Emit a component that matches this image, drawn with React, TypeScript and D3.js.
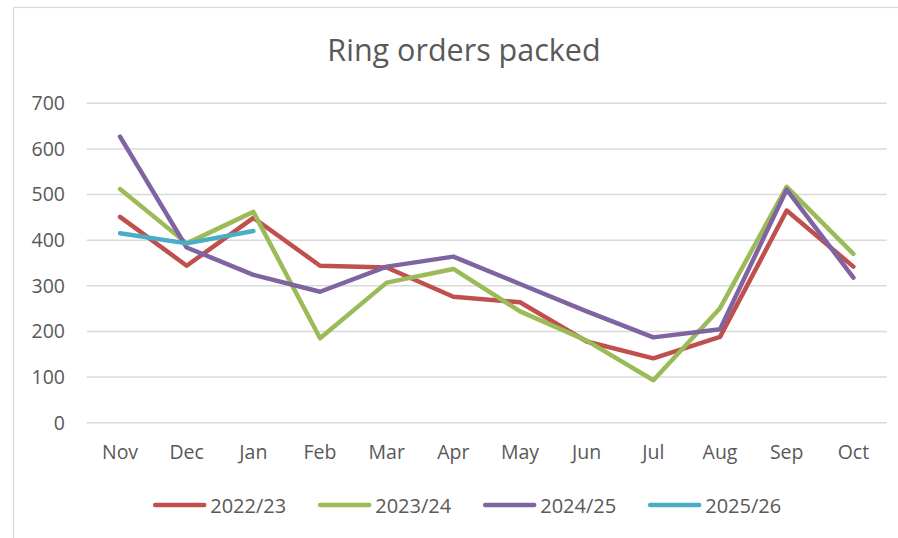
import React, { useEffect, useRef } from 'react';
import * as d3 from 'd3';

const months = ['Nov', 'Dec', 'Jan', 'Feb', 'Mar', 'Apr', 'May', 'Jun', 'Jul', 'Aug', 'Sep', 'Oct'];
const yTicks = [0, 100, 200, 300, 400, 500, 600, 700];

const fy2022 = [451, 344, 449, 344, 340, 276, 264, 178, 141, 188, 465, 342];
const fy2023 = [512, 393, 462, 185, 307, 337, 244, 180, 93, 251, 517, 370];
const fy2024 = [627, 384, 324, 287, 342, 364, 304, 244, 187, 205, 511, 318];
const fy2025 = [415, 393, 420];

const seriesNames = ['2022/23', '2023/24', '2024/25', '2025/26'];
const seriesColors = ['#C0504D', '#9BBB59', '#8064A2', '#4BACC6'];

const App: React.FC = () => {
  const svgRef = useRef<SVGSVGElement>(null);

  useEffect(() => {
    if (!svgRef.current) return;
    const width = 898;
    const height = 538;
    const font = "'Open Sans', sans-serif";
    const textColor = '#595959';

    const svg = d3.select(svgRef.current);
    svg.selectAll('*').remove();

    // chart border (runs off the right/bottom edge like the original)
    svg.append('rect')
      .attr('x', 13.5).attr('y', 7.5)
      .attr('width', width + 20).attr('height', height + 20)
      .attr('fill', '#fff')
      .attr('stroke', '#d9d9d9')
      .attr('stroke-width', 1.2);

    const x = d3.scaleBand<string>()
      .domain(months)
      .range([86.7, 886.7]);

    const y = d3.scaleLinear()
      .domain([0, 700])
      .range([422.7, 103.3]);

    // title
    svg.append('text')
      .text('Ring orders packed')
      .attr('x', 464)
      .attr('y', 60.5)
      .attr('text-anchor', 'middle')
      .attr('fill', textColor)
      .attr('font-size', '30.5px')
      .attr('font-family', font);

    // gridlines
    svg.append('g')
      .selectAll('line')
      .data(yTicks)
      .enter()
      .append('line')
      .attr('x1', x.range()[0])
      .attr('x2', x.range()[1])
      .attr('y1', d => y(d))
      .attr('y2', d => y(d))
      .attr('stroke', '#d9d9d9')
      .attr('stroke-width', 1.5);

    // y labels
    svg.append('g')
      .selectAll('text')
      .data(yTicks)
      .enter()
      .append('text')
      .text(d => String(d))
      .attr('x', 65)
      .attr('y', d => y(d))
      .attr('dy', '0.35em')
      .attr('text-anchor', 'end')
      .attr('fill', textColor)
      .attr('font-size', '19.5px')
      .attr('font-family', font);

    // x labels
    svg.append('g')
      .selectAll('text')
      .data(months)
      .enter()
      .append('text')
      .text(d => d)
      .attr('x', d => (x(d) ?? 0) + x.bandwidth() / 2)
      .attr('y', 458.5)
      .attr('text-anchor', 'middle')
      .attr('fill', textColor)
      .attr('font-size', '19.5px')
      .attr('font-family', font);

    const line = d3.line<number>()
      .x((_, i) => (x(months[i]) ?? 0) + x.bandwidth() / 2)
      .y(d => y(d));

    const allSeries = [fy2022, fy2023, fy2024, fy2025];
    allSeries.forEach((vals, i) => {
      svg.append('path')
        .datum(vals)
        .attr('fill', 'none')
        .attr('stroke', seriesColors[i])
        .attr('stroke-width', 4.5)
        .attr('stroke-linejoin', 'round')
        .attr('stroke-linecap', 'round')
        .attr('d', line);
    });

    // legend
    const legend = svg.append('g')
      .selectAll('g')
      .data(seriesNames)
      .enter()
      .append('g')
      .attr('transform', (_, i) => `translate(${152.7 + i * 165}, 505)`);

    legend.append('line')
      .attr('x1', 2.5).attr('x2', 51.5)
      .attr('y1', 0).attr('y2', 0)
      .attr('stroke', (_, i) => seriesColors[i])
      .attr('stroke-width', 4.5)
      .attr('stroke-linecap', 'round');

    legend.append('text')
      .text(d => d)
      .attr('x', 57.5)
      .attr('y', 7.5)
      .attr('fill', textColor)
      .attr('font-size', '20px')
      .attr('font-family', font);
  }, []);

  return (
    <div style={{ position: 'fixed', left: 0, top: 0, width: 898, height: 538, background: '#fff' }}>
      <svg ref={svgRef} width={898} height={538} style={{ display: 'block' }} />
    </div>
  );
};

export default App;
